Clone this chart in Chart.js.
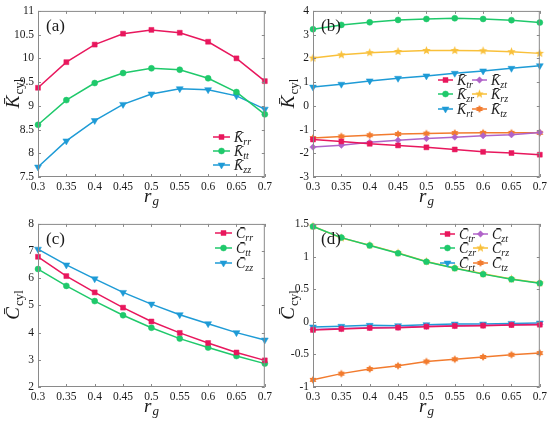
<!DOCTYPE html>
<html>
<head>
<meta charset="utf-8">
<script src="https://cdn.jsdelivr.net/npm/chart.js@4.4.1/dist/chart.umd.min.js"></script>
<style>
body { margin: 0; background: #fff; }
#wrap { position: relative; width: 550px; height: 426px; }
canvas { position: absolute; }
</style>
</head>
<body>
<div id="wrap">
  <canvas id="ca" width="275" height="213" style="left:0;top:0"></canvas>
  <canvas id="cb" width="275" height="213" style="left:275px;top:0"></canvas>
  <canvas id="cc" width="275" height="213" style="left:0;top:213px"></canvas>
  <canvas id="cd" width="275" height="213" style="left:275px;top:213px"></canvas>
</div>
<script>
// x values (r_g) and tick labels
var rg = [0.3, 0.35, 0.4, 0.45, 0.5, 0.55, 0.6, 0.65, 0.7];
var xTickLabels = ['0.3', '0.35', '0.4', '0.45', '0.5', '0.55', '0.6', '0.65', '0.7'];

// (a) diagonal stiffness
var Krr = [9.38, 9.92, 10.29, 10.52, 10.60, 10.54, 10.35, 10.00, 9.52];
var Ktt = [8.60, 9.12, 9.48, 9.69, 9.79, 9.76, 9.58, 9.29, 8.82];
var Kzz = [7.71, 8.26, 8.69, 9.03, 9.25, 9.36, 9.34, 9.21, 8.93];
var aTicks = [7.5, 8, 8.5, 9, 9.5, 10, 10.5, 11];
var aTickLabels = ['7.5', '8', '8.5', '9', '9.5', '10', '10.5', '11'];

// (b) off-diagonal stiffness
var Ktr = [-1.42, -1.50, -1.60, -1.67, -1.75, -1.84, -1.94, -1.99, -2.06];
var Kzt = [-1.74, -1.66, -1.54, -1.45, -1.38, -1.32, -1.26, -1.22, -1.12];
var Kzr = [3.23, 3.41, 3.52, 3.62, 3.66, 3.69, 3.66, 3.61, 3.51];
var Krz = [2.01, 2.15, 2.24, 2.29, 2.33, 2.33, 2.32, 2.28, 2.21];
var Krt = [0.79, 0.91, 1.05, 1.16, 1.26, 1.37, 1.47, 1.58, 1.69];
var Ktz = [-1.36, -1.29, -1.24, -1.19, -1.17, -1.15, -1.14, -1.14, -1.14];
var bTicks = [-3, -2, -1, 0, 1, 2, 3, 4];
var bTickLabels = ['-3', '-2', '-1', '0', '1', '2', '3', '4'];

// (c) diagonal damping
var Crr = [6.79, 6.08, 5.48, 4.92, 4.41, 3.99, 3.62, 3.27, 2.98];
var Ctt = [6.34, 5.72, 5.16, 4.64, 4.18, 3.78, 3.45, 3.14, 2.86];
var Czz = [7.07, 6.49, 5.98, 5.48, 5.05, 4.66, 4.33, 4.00, 3.73];
var cTicks = [2, 3, 4, 5, 6, 7, 8];
var cTickLabels = ['2', '3', '4', '5', '6', '7', '8'];

// (d) off-diagonal damping
var Ctr = [-0.125, -0.11, -0.095, -0.09, -0.075, -0.065, -0.06, -0.05, -0.045];
var Czt = [-0.12, -0.105, -0.09, -0.085, -0.07, -0.06, -0.055, -0.045, -0.04];
var Czr = [1.46, 1.29, 1.17, 1.05, 0.92, 0.82, 0.73, 0.65, 0.59];
var Crz = [1.465, 1.285, 1.175, 1.055, 0.925, 0.825, 0.735, 0.655, 0.595];
var Crt = [-0.08, -0.07, -0.055, -0.06, -0.045, -0.035, -0.035, -0.025, -0.02];
var Ctz = [-0.89, -0.795, -0.725, -0.675, -0.61, -0.575, -0.54, -0.505, -0.48];
var dTicks = [-1, -0.5, 0, 0.5, 1, 1.5];
var dTickLabels = ['-1', '-0.5', '0', '0.5', '1', '1.5'];

var RED = '#e8175d', GREEN = '#1fc96b', BLUE = '#1e9bd6';
var PURPLE = '#b063c9', YELLOW = '#f9c03a', ORANGE = '#f27b2e';
var SERIF = "'Liberation Serif', 'DejaVu Serif', serif";

// star markers drawn onto small canvases
function starImg(n, color, outer, inner) {
  var s = Math.ceil(outer * 2 + 2);
  var c = document.createElement('canvas');
  c.width = s; c.height = s;
  var g = c.getContext('2d');
  g.beginPath();
  for (var i = 0; i < n * 2; i++) {
    var r = i % 2 ? inner : outer;
    var a = -Math.PI / 2 + i * Math.PI / n;
    var px = s / 2 + r * Math.cos(a), py = s / 2 + r * Math.sin(a);
    if (i == 0) g.moveTo(px, py); else g.lineTo(px, py);
  }
  g.closePath();
  g.fillStyle = color;
  g.fill();
  return c;
}
var pentaY = starImg(5, YELLOW, 4.5, 2);
var hexaO = starImg(6, ORANGE, 4, 2.4);

var styles = {
  sq: { pointStyle: 'rect', pointRadius: 3.5, pointRotation: 0 },
  ci: { pointStyle: 'circle', pointRadius: 3, pointRotation: 0 },
  tr: { pointStyle: 'triangle', pointRadius: 4, pointRotation: 180 },
  di: { pointStyle: 'rectRot', pointRadius: 3.2, pointRotation: 0 },
  pe: { pointStyle: pentaY, pointRadius: 4, pointRotation: 0 },
  he: { pointStyle: hexaO, pointRadius: 4, pointRotation: 0 }
};

function ds(data, color, st) {
  var m = styles[st];
  return {
    data: data,
    borderColor: color,
    backgroundColor: color,
    borderWidth: 1.5,
    pointStyle: m.pointStyle,
    pointRadius: m.pointRadius,
    pointRotation: m.pointRotation,
    pointBorderWidth: 0.5,
    pointHoverRadius: m.pointRadius,
    tension: 0,
    clip: false
  };
}

// draws frame, inward ticks, axis titles, panel tag and legend
var decor = {
  id: 'decor',
  afterDraw: function (chart) {
    var ctx = chart.ctx, a = chart.chartArea, o = chart.options.plugins.decor;
    var xs = chart.scales.x, ys = chart.scales.y;
    ctx.save();
    ctx.strokeStyle = '#8a8a8a';
    ctx.lineWidth = 1;
    ctx.strokeRect(a.left + 0.5, a.top + 0.5, a.right - a.left - 1, a.bottom - a.top - 1);
    ctx.beginPath();
    xs.ticks.forEach(function (t) {
      var px = Math.round(xs.getPixelForValue(t.value)) + 0.5;
      ctx.moveTo(px, a.bottom); ctx.lineTo(px, a.bottom - 3);
      ctx.moveTo(px, a.top); ctx.lineTo(px, a.top + 3);
    });
    ys.ticks.forEach(function (t) {
      var py = Math.round(ys.getPixelForValue(t.value)) + 0.5;
      ctx.moveTo(a.left, py); ctx.lineTo(a.left + 3, py);
      ctx.moveTo(a.right, py); ctx.lineTo(a.right - 3, py);
    });
    ctx.stroke();

    ctx.fillStyle = '#1a1a1a';
    ctx.textBaseline = 'alphabetic';
    // x title r_g
    var cx = (a.left + a.right) / 2;
    ctx.font = 'italic 19px ' + SERIF;
    var w = ctx.measureText('r').width;
    ctx.textAlign = 'left';
    ctx.fillText('r', cx - w, a.bottom + 25);
    ctx.font = 'italic 13px ' + SERIF;
    ctx.fillText('g', cx + 1, a.bottom + 28);

    // y title
    ctx.save();
    ctx.translate(19, (a.top + a.bottom) / 2);
    ctx.rotate(-Math.PI / 2);
    ctx.font = 'italic 19px ' + SERIF;
    var t1 = o.sym + '\u0304';
    var w1 = ctx.measureText(t1).width;
    ctx.font = '13px ' + SERIF;
    var w2 = ctx.measureText('cyl').width;
    var sx = -(w1 + w2) / 2;
    ctx.font = 'italic 19px ' + SERIF;
    ctx.fillText(t1, sx, 0);
    ctx.font = '13px ' + SERIF;
    ctx.fillText('cyl', sx + w1 + 1, 4);
    ctx.restore();

    // panel tag
    ctx.font = '17px ' + SERIF;
    ctx.fillText(o.tag, a.left + 8, a.top + 20);

    // legend
    o.legend.forEach(function (e) {
      var d = chart.data.datasets[e.i];
      var y = e.y;
      ctx.strokeStyle = d.borderColor;
      ctx.lineWidth = 1.5;
      ctx.beginPath();
      ctx.moveTo(e.x, y); ctx.lineTo(e.x + o.lineLen, y);
      ctx.stroke();
      ctx.fillStyle = d.backgroundColor;
      ctx.lineWidth = 0.5;
      Chart.helpers.drawPoint(ctx, {
        pointStyle: d.pointStyle, radius: d.pointRadius,
        rotation: d.pointRotation, borderWidth: 0.5
      }, e.x + o.lineLen / 2, y);
      ctx.fillStyle = '#1a1a1a';
      ctx.font = 'italic 14px ' + SERIF;
      var tx = e.x + o.lineLen + 4;
      var tt = o.sym + '\u0304';
      ctx.fillText(tt, tx, y + 5);
      var tw = ctx.measureText(tt).width;
      ctx.font = 'italic 10px ' + SERIF;
      ctx.fillText(e.sub, tx + tw, y + 8);
    });
    ctx.restore();
  }
};

function makeChart(id, datasets, yMin, yMax, yTicks, yLabels, top, xh, deco) {
  return new Chart(document.getElementById(id), {
    type: 'line',
    data: { labels: rg, datasets: datasets },
    plugins: [decor],
    options: {
      responsive: false,
      animation: false,
      events: [],
      layout: { padding: { left: 0, right: 10, top: top, bottom: 0 } },
      scales: {
        x: {
          type: 'linear', min: 0.3, max: 0.7,
          afterBuildTicks: function (s) { s.ticks = rg.map(function (v) { return { value: v }; }); },
          afterFit: function (s) { s.height = xh; },
          ticks: {
            padding: 3, maxRotation: 0, autoSkip: false,
            color: '#1a1a1a', font: { family: SERIF, size: 11.5 },
            callback: function (v, i) { return xTickLabels[i]; }
          },
          grid: { display: false, drawTicks: false },
          border: { display: false }
        },
        y: {
          min: yMin, max: yMax,
          afterBuildTicks: function (s) { s.ticks = yTicks.map(function (v) { return { value: v }; }); },
          afterFit: function (s) { s.width = 38; },
          ticks: {
            padding: 4, autoSkip: false,
            color: '#1a1a1a', font: { family: SERIF, size: 11.5 },
            callback: function (v, i) { return yLabels[i]; }
          },
          grid: { display: false, drawTicks: false },
          border: { display: false }
        }
      },
      plugins: { legend: { display: false }, tooltip: { enabled: false }, decor: deco }
    }
  });
}

makeChart('ca', [ds(Krr, RED, 'sq'), ds(Ktt, GREEN, 'ci'), ds(Kzz, BLUE, 'tr')],
  7.5, 11, aTicks, aTickLabels, 10, 36, {
    tag: '(a)', sym: 'K', lineLen: 17,
    legend: [{ i: 0, sub: 'rr', x: 213, y: 137 }, { i: 1, sub: 'tt', x: 213, y: 151 }, { i: 2, sub: 'zz', x: 213, y: 165 }]
  });

makeChart('cb', [ds(Ktr, RED, 'sq'), ds(Kzt, PURPLE, 'di'), ds(Kzr, GREEN, 'ci'),
                 ds(Krz, YELLOW, 'pe'), ds(Krt, BLUE, 'tr'), ds(Ktz, ORANGE, 'he')],
  -3, 4, bTicks, bTickLabels, 10, 36, {
    tag: '(b)', sym: 'K', lineLen: 15,
    legend: [{ i: 0, sub: 'tr', x: 163, y: 80 }, { i: 2, sub: 'zr', x: 163, y: 94 }, { i: 4, sub: 'rt', x: 163, y: 109 },
             { i: 1, sub: 'zt', x: 197, y: 80 }, { i: 3, sub: 'rz', x: 197, y: 94 }, { i: 5, sub: 'tz', x: 197, y: 109 }]
  });

makeChart('cc', [ds(Crr, RED, 'sq'), ds(Ctt, GREEN, 'ci'), ds(Czz, BLUE, 'tr')],
  2, 8, cTicks, cTickLabels, 7, 39, {
    tag: '(c)', sym: 'C', lineLen: 17,
    legend: [{ i: 0, sub: 'rr', x: 215, y: 20 }, { i: 1, sub: 'tt', x: 215, y: 35 }, { i: 2, sub: 'zz', x: 215, y: 50 }]
  });

makeChart('cd', [ds(Ctr, RED, 'sq'), ds(Czt, PURPLE, 'di'), ds(Czr, GREEN, 'ci'),
                 ds(Crz, YELLOW, 'pe'), ds(Crt, BLUE, 'tr'), ds(Ctz, ORANGE, 'he')],
  -1, 1.5, dTicks, dTickLabels, 7, 39, {
    tag: '(d)', sym: 'C', lineLen: 15,
    legend: [{ i: 0, sub: 'tr', x: 165, y: 21 }, { i: 2, sub: 'zr', x: 165, y: 35 }, { i: 4, sub: 'rt', x: 165, y: 50 },
             { i: 1, sub: 'zt', x: 198, y: 21 }, { i: 3, sub: 'rz', x: 198, y: 35 }, { i: 5, sub: 'tz', x: 198, y: 50 }]
  });
</script>
</body>
</html>
